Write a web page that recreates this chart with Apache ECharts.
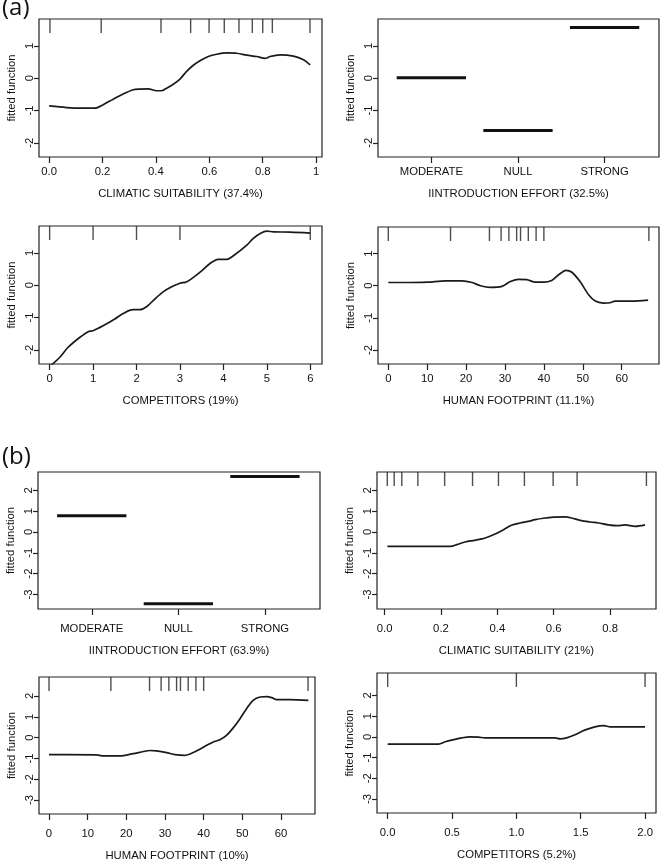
<!DOCTYPE html>
<html><head><meta charset="utf-8">
<script src="https://cdn.jsdelivr.net/npm/echarts@6/dist/echarts.min.js"></script>
<style>html,body{margin:0;padding:0;background:#fff}#c{width:664px;height:863px}</style>
</head><body><div id="c"></div><script>
// ---------------- data ----------------
const catNames = ['MODERATE', 'NULL', 'STRONG'];
const catPos = [1, 2, 3];

// (a) panel 1: climatic suitability
const aClimX = [0.0, 0.065, 0.115, 0.171, 0.2025, 0.24, 0.2775, 0.315, 0.34, 0.371, 0.4025, 0.42, 0.44, 0.465, 0.49, 0.515, 0.54, 0.565, 0.596, 0.6275, 0.665, 0.7025, 0.74, 0.7775, 0.809, 0.8275, 0.865, 0.915, 0.9525, 0.9775];
const aClimY = [-0.86, -0.91, -0.93, -0.93, -0.82, -0.65, -0.49, -0.36, -0.34, -0.33, -0.39, -0.39, -0.31, -0.19, -0.03, 0.21, 0.40, 0.54, 0.67, 0.74, 0.78, 0.77, 0.71, 0.67, 0.61, 0.67, 0.72, 0.68, 0.57, 0.41];
const aClimRug = [0.003, 0.195, 0.419, 0.53, 0.599, 0.656, 0.711, 0.761, 0.80, 0.836, 0.977];
const aClimTicks = [0, 0.2, 0.4, 0.6, 0.8, 1];
const aClimTickLabels = ['0.0', '0.2', '0.4', '0.6', '0.8', '1'];

// (a) panel 2: introduction effort
const aIntroValues = [0.01, -1.62, 1.57];

// (a) panel 3: competitors
const aCompX = [0.0, 0.23, 0.42, 0.69, 0.885, 1.0, 1.23, 1.5, 1.69, 1.92, 2.08, 2.23, 2.42, 2.62, 2.81, 3.0, 3.15, 3.31, 3.5, 3.69, 3.88, 4.08, 4.23, 4.54, 4.69, 4.85, 5.0, 5.15, 5.54, 6.0];
const aCompY = [-2.52, -2.24, -1.93, -1.62, -1.44, -1.41, -1.26, -1.05, -0.88, -0.76, -0.76, -0.67, -0.43, -0.20, -0.05, 0.06, 0.10, 0.24, 0.44, 0.67, 0.80, 0.80, 0.91, 1.24, 1.45, 1.60, 1.67, 1.65, 1.64, 1.61];
const aCompRug = [0, 1, 2, 3, 6];
const aCompTicks = [0, 1, 2, 3, 4, 5, 6];
const aCompTickLabels = ['0', '1', '2', '3', '4', '5', '6'];

// (a) panel 4: human footprint
const aFootX = [0, 5.3, 10, 14.7, 19, 21.5, 23.7, 26.2, 29.2, 31.4, 33.5, 35.6, 37.8, 39.9, 42, 43.8, 45.7, 47.2, 49.3, 51.5, 53.2, 55.3, 57, 58.3, 62.6, 66.8];
const aFootY = [0.10, 0.10, 0.11, 0.15, 0.15, 0.10, 0.0, -0.05, -0.02, 0.13, 0.20, 0.19, 0.11, 0.11, 0.16, 0.34, 0.48, 0.42, 0.13, -0.28, -0.48, -0.54, -0.53, -0.48, -0.48, -0.45];
const aFootRug = [0, 16, 26, 29, 31, 33, 34, 36, 38, 40, 67];
const footTicks = [0, 10, 20, 30, 40, 50, 60];
const footTickLabels = ['0', '10', '20', '30', '40', '50', '60'];

// (b) panel 1: introduction effort
const bIntroValues = [0.78, -3.45, 2.66];

// (b) panel 2: climatic suitability
const bClimX = [0.01, 0.233, 0.256, 0.286, 0.32, 0.357, 0.392, 0.422, 0.45, 0.48, 0.51, 0.534, 0.564, 0.6, 0.64, 0.664, 0.694, 0.73, 0.759, 0.794, 0.824, 0.853, 0.889, 0.924];
const bClimY = [-0.69, -0.69, -0.61, -0.48, -0.40, -0.29, -0.10, 0.11, 0.32, 0.43, 0.51, 0.59, 0.66, 0.71, 0.72, 0.67, 0.56, 0.48, 0.43, 0.34, 0.30, 0.34, 0.27, 0.34];
const bClimRug = [0.0095, 0.034, 0.061, 0.118, 0.213, 0.312, 0.404, 0.496, 0.598, 0.683, 0.929];
const bClimTicks = [0, 0.2, 0.4, 0.6, 0.8];
const bClimTickLabels = ['0.0', '0.2', '0.4', '0.6', '0.8'];

// (b) panel 3: human footprint
const bFootX = [0, 4.5, 12.3, 14, 18.3, 21.8, 24.4, 26.1, 27.8, 30.4, 32.6, 35.1, 37.3, 39, 40.8, 42.5, 44.2, 45.9, 47.7, 49.4, 51.1, 52.8, 54.6, 56.3, 57.6, 58.9, 62.3, 67.1];
const bFootY = [-0.82, -0.82, -0.83, -0.88, -0.88, -0.77, -0.67, -0.62, -0.64, -0.72, -0.82, -0.85, -0.72, -0.56, -0.37, -0.21, -0.10, 0.11, 0.48, 0.91, 1.39, 1.79, 1.95, 1.97, 1.92, 1.82, 1.82, 1.79];
const bFootRug = [0, 16, 26, 29, 31, 33, 34, 36, 38, 40, 67];

// (b) panel 4: competitors
const bCompX = [0, 0.396, 0.448, 0.512, 0.577, 0.642, 0.706, 0.758, 1.12, 1.30, 1.34, 1.39, 1.46, 1.53, 1.61, 1.68, 1.73, 2.0];
const bCompY = [-0.35, -0.35, -0.24, -0.14, -0.05, 0.0, -0.02, -0.05, -0.05, -0.05, -0.10, -0.05, 0.11, 0.32, 0.48, 0.54, 0.48, 0.48];
const bCompRug = [0, 1, 2];
const bCompTicks = [0, 0.5, 1, 1.5, 2];
const bCompTickLabels = ['0.0', '0.5', '1.0', '1.5', '2.0'];

const aYTicks = [-2, -1, 0, 1];
const bYTicks = [-3, -2, -1, 0, 1, 2];

// ---------------- layout ----------------
const FONT = 'Liberation Sans';
const TXT = '#111';
const FS = 11.3;
const panels = [
  {box: [39, 19, 283, 138], xr: [-0.038, 1.022], yr: [-2.44, 1.83], yt: aYTicks, kind: 'curve', x: aClimX, y: aClimY, rug: aClimRug, ticks: aClimTicks, labels: aClimTickLabels, name: 'CLIMATIC SUITABILITY (37.4%)', row: 'a'},
  {box: [378, 19, 281, 138], xr: [0.384, 3.628], yr: [-2.44, 1.83], yt: aYTicks, kind: 'cat', vals: aIntroValues, ticks: catPos, labels: catNames, name: 'IINTRODUCTION EFFORT (32.5%)', row: 'a'},
  {box: [39, 226, 283, 138], xr: [-0.245, 6.27], yr: [-2.44, 1.83], yt: aYTicks, kind: 'curve', x: aCompX, y: aCompY, rug: aCompRug, ticks: aCompTicks, labels: aCompTickLabels, name: 'COMPETITORS (19%)', row: 'a'},
  {box: [378, 227, 281, 137], xr: [-2.65, 69.6], yr: [-2.44, 1.83], yt: aYTicks, kind: 'curve', x: aFootX, y: aFootY, rug: aFootRug, ticks: footTicks, labels: footTickLabels, name: 'HUMAN FOOTPRINT (11.1%)', row: 'a'},
  {box: [38, 472, 282, 137], xr: [0.379, 3.636], yr: [-3.70, 2.88], yt: bYTicks, kind: 'cat', vals: bIntroValues, ticks: catPos, labels: catNames, name: 'IINTRODUCTION EFFORT (63.9%)', row: 'b'},
  {box: [377, 472, 279, 137], xr: [-0.027, 0.963], yr: [-3.70, 2.88], yt: bYTicks, kind: 'curve', x: bClimX, y: bClimY, rug: bClimRug, ticks: bClimTicks, labels: bClimTickLabels, name: 'CLIMATIC SUITABILITY (21%)', row: 'b'},
  {box: [39, 677, 276, 137], xr: [-2.59, 68.8], yr: [-3.67, 2.91], yt: bYTicks, kind: 'curve', x: bFootX, y: bFootY, rug: bFootRug, ticks: footTicks, labels: footTickLabels, name: 'HUMAN FOOTPRINT (10%)', row: 'b'},
  {box: [377, 673, 279, 140], xr: [-0.083, 2.085], yr: [-3.68, 3.08], yt: bYTicks, kind: 'curve', x: bCompX, y: bCompY, rug: bCompRug, ticks: bCompTicks, labels: bCompTickLabels, name: 'COMPETITORS (5.2%)', row: 'b'}
];

const grid = [], xAxis = [], yAxis = [], series = [];
panels.forEach((p, i) => {
  grid.push({left: p.box[0], top: p.box[1], width: p.box[2], height: p.box[3], show: true, borderColor: '#222', borderWidth: 1.2, backgroundColor: 'transparent', containLabel: false});
  const lab = p.labels, tk = p.ticks;
  xAxis.push({
    type: 'value', gridIndex: i, min: p.xr[0], max: p.xr[1], position: 'bottom',
    axisLine: {show: false, onZero: false}, splitLine: {show: false},
    axisTick: {show: true, length: 6, customValues: tk, lineStyle: {color: '#222', width: 1.2}},
    axisLabel: {customValues: tk, margin: p.row === 'a' ? 9 : 14, fontSize: FS, color: TXT, fontFamily: FONT,
      formatter: v => { let k = 0, d = Infinity; tk.forEach((t, j) => { if (Math.abs(t - v) < d) { d = Math.abs(t - v); k = j; } }); return lab[k]; }},
    name: p.name, nameLocation: 'middle', nameGap: p.row === 'a' ? 31 : 36,
    nameTextStyle: {fontSize: FS, color: TXT, fontFamily: FONT}
  });
  yAxis.push({
    type: 'value', gridIndex: i, min: p.yr[0], max: p.yr[1], position: 'left',
    axisLine: {show: false, onZero: false}, splitLine: {show: false},
    axisTick: {show: true, length: 5, customValues: p.yt, lineStyle: {color: '#222', width: 1.2}},
    axisLabel: {customValues: p.yt, rotate: 90, margin: 4, fontSize: FS, color: TXT, fontFamily: FONT, formatter: v => String(Math.round(v))},
    name: 'fitted function', nameLocation: 'middle', nameGap: 22, nameRotate: 90,
    nameTextStyle: {fontSize: FS, color: TXT, fontFamily: FONT}
  });
  if (p.kind === 'curve') {
    series.push({type: 'line', xAxisIndex: i, yAxisIndex: i, data: p.x.map((x, k) => [x, p.y[k]]), showSymbol: false, smooth: 0.3,
      lineStyle: {color: '#1a1a1a', width: 1.7}, clip: true, animation: false});
    series.push({type: 'scatter', xAxisIndex: i, yAxisIndex: i, data: p.rug.map(x => [x, p.yr[1]]), symbol: 'rect', symbolSize: [1.4, 14], symbolOffset: [0, 7],
      itemStyle: {color: '#222'}, clip: false, silent: true, animation: false});
  } else {
    series.push({type: 'custom', xAxisIndex: i, yAxisIndex: i, data: p.vals.map((v, k) => [p.ticks[k], v]), animation: false,
      renderItem: (params, api) => {
        const x = api.value(0), y = api.value(1);
        const a = api.coord([x - 0.4, y]), b = api.coord([x + 0.4, y]);
        return {type: 'line', shape: {x1: a[0], y1: a[1], x2: b[0], y2: b[1]}, style: {stroke: '#111', lineWidth: 3}};
      }});
  }
});

const chart = echarts.init(document.getElementById('c'), null, {renderer: 'canvas'});
chart.setOption({
  animation: false,
  backgroundColor: '#fff',
  grid, xAxis, yAxis, series,
  graphic: [
    {type: 'text', left: 2, top: -4, style: {text: '(a)', fontSize: 24, fontFamily: 'Open Sans', fill: '#111'}},
    {type: 'text', left: 2, top: 445, style: {text: '(b)', fontSize: 24, fontFamily: 'Open Sans', fill: '#111'}}
  ]
});
</script></body></html>
